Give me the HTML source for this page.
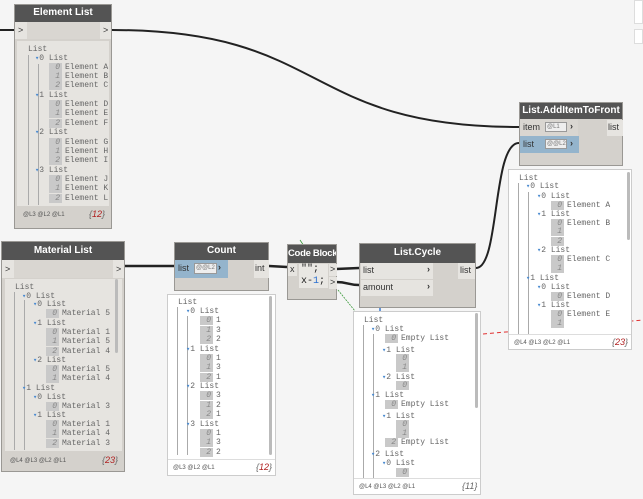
<!DOCTYPE html>
<html><head><meta charset="utf-8"><style>
*{margin:0;padding:0;box-sizing:border-box}
body{width:643px;height:499px;background:#f5f5f5;position:relative;overflow:hidden;font-family:"Liberation Sans",sans-serif}
.a{position:absolute}
.node{position:absolute;background:#d4d1cc;border:1px solid #9a9894}
.hd{position:absolute;left:0;right:0;top:0;background:#545454;color:#fff;font-weight:bold;font-size:10px;text-align:center;white-space:nowrap;overflow:hidden}
.t{position:absolute;font:8px "Liberation Mono",monospace;color:#666;white-space:pre;line-height:9px}
.i{display:inline-block;background:#c9c9c9;color:#888;width:13px;text-align:right;padding-right:2px;margin-right:3px;font-style:italic}
.tr{color:#4a8ad0;font-size:7px}
.pv{position:absolute;background:#fff;border:1px solid #ccc}
.ft{position:absolute;font:6px "Liberation Sans",sans-serif;color:#555}
.cnt{position:absolute;font:italic 9px "Liberation Sans",sans-serif;color:#666}
.cnt b{color:#b02020;font-weight:normal}
.vl{position:absolute;width:1px;background:#aaa}
.sb{position:absolute;width:3px;background:#bbb;border-radius:2px}
.port{position:absolute;font-size:9px;color:#333}
</style></head><body>

<svg class="a" style="left:0;top:0" width="643" height="499">
<path d="M483,334 L643,320" stroke="#e03030" stroke-width="1" stroke-dasharray="4,3" fill="none"/>
<path d="M338,290 L355,311" stroke="#3a9a3a" stroke-width="0.8" stroke-dasharray="2,1" fill="none"/>
<path d="M300,240 L304,246" stroke="#3a9a3a" stroke-width="0.8" fill="none"/>
<path d="M0,30 L14,30" stroke="#222" stroke-width="2" fill="none"/>
<path d="M112,30 C330,30 300,127 519,127" stroke="#222" stroke-width="2" fill="none"/>
<path d="M124,266 L174,266" stroke="#222" stroke-width="2.5" fill="none"/>
<path d="M269,266 L287,267" stroke="#222" stroke-width="2.5" fill="none"/>
<path d="M336,269 L359,268" stroke="#222" stroke-width="2.5" fill="none"/>
<path d="M336,282 C348,282 348,285 359,285" stroke="#222" stroke-width="2.5" fill="none"/>
<path d="M476,268 C500,268 492,143 519,143" stroke="#222" stroke-width="2" fill="none"/>
<path d="M380,308 L380,314" stroke="#3a7ad0" stroke-width="1.5"/>
</svg>

<div class="a" style="left:634px;top:0;width:9px;height:24px;background:#fff;border:1px solid #ddd"></div>
<div class="a" style="left:634px;top:29px;width:9px;height:15px;background:#fff;border:1px solid #ddd"></div>

<!-- Element List -->
<div class="node" style="left:14px;top:4px;width:98px;height:225px">
<div class="hd" style="height:17px;line-height:16px">Element List</div>
<div class="a" style="left:0;top:17px;width:96px;height:17px;background:#d9d6d1"></div>
<div class="a" style="left:0;top:17px;width:12px;height:17px;background:#e6e4e0"></div>
<div class="a" style="left:85px;top:17px;width:11px;height:17px;background:#e6e4e0"></div>
<div class="port" style="left:3px;top:20px">&gt;</div><div class="port" style="left:88px;top:20px">&gt;</div>
<div class="a" style="left:2px;top:36px;width:92px;height:165px;background:#e6e4e0"></div>
</div>
<div class="vl" style="left:28px;top:55px;height:150px"></div><div class="vl" style="left:38px;top:64px;height:141px"></div>
<div class="t" style="left:28px;top:45px">List</div>
<div class="t" style="left:35px;top:54px"><span class="tr">▾</span>0 List</div>
<div class="t" style="left:49px;top:63px"><span class="i">0</span>Element A</div>
<div class="t" style="left:49px;top:72px"><span class="i">1</span>Element B</div>
<div class="t" style="left:49px;top:81px"><span class="i">2</span>Element C</div>
<div class="t" style="left:35px;top:91px"><span class="tr">▾</span>1 List</div>
<div class="t" style="left:49px;top:100px"><span class="i">0</span>Element D</div>
<div class="t" style="left:49px;top:109px"><span class="i">1</span>Element E</div>
<div class="t" style="left:49px;top:119px"><span class="i">2</span>Element F</div>
<div class="t" style="left:35px;top:128px"><span class="tr">▾</span>2 List</div>
<div class="t" style="left:49px;top:138px"><span class="i">0</span>Element G</div>
<div class="t" style="left:49px;top:147px"><span class="i">1</span>Element H</div>
<div class="t" style="left:49px;top:156px"><span class="i">2</span>Element I</div>
<div class="t" style="left:35px;top:166px"><span class="tr">▾</span>3 List</div>
<div class="t" style="left:49px;top:175px"><span class="i">0</span>Element J</div>
<div class="t" style="left:49px;top:184px"><span class="i">1</span>Element K</div>
<div class="t" style="left:49px;top:194px"><span class="i">2</span>Element L</div>
<div class="ft" style="left:23px;top:212px">@L3 @L2 @L1</div>
<div class="cnt" style="left:89px;top:209px">{<b>12</b>}</div>

<!-- Material List -->
<div class="node" style="left:1px;top:241px;width:124px;height:231px">
<div class="hd" style="height:18px;line-height:17px">Material List</div>
<div class="a" style="left:0;top:18px;width:122px;height:18px;background:#d9d6d1"></div>
<div class="a" style="left:0;top:18px;width:12px;height:18px;background:#e6e4e0"></div>
<div class="a" style="left:111px;top:18px;width:11px;height:18px;background:#e6e4e0"></div>
<div class="port" style="left:3px;top:22px">&gt;</div><div class="port" style="left:114px;top:22px">&gt;</div>
<div class="a" style="left:3px;top:37px;width:117px;height:172px;background:#e6e4e0"></div>
</div>
<div class="sb" style="left:115px;top:279px;height:74px"></div>
<div class="vl" style="left:14px;top:292px;height:158px"></div><div class="vl" style="left:24px;top:300px;height:150px"></div>
<div class="t" style="left:15px;top:283px">List</div>
<div class="t" style="left:22px;top:292px"><span class="tr">▾</span>0 List</div>
<div class="t" style="left:33px;top:300px"><span class="tr">▾</span>0 List</div>
<div class="t" style="left:46px;top:309px"><span class="i">0</span>Material 5</div>
<div class="t" style="left:33px;top:319px"><span class="tr">▾</span>1 List</div>
<div class="t" style="left:46px;top:328px"><span class="i">0</span>Material 1</div>
<div class="t" style="left:46px;top:337px"><span class="i">1</span>Material 5</div>
<div class="t" style="left:46px;top:347px"><span class="i">2</span>Material 4</div>
<div class="t" style="left:33px;top:356px"><span class="tr">▾</span>2 List</div>
<div class="t" style="left:46px;top:365px"><span class="i">0</span>Material 5</div>
<div class="t" style="left:46px;top:374px"><span class="i">1</span>Material 4</div>
<div class="t" style="left:22px;top:384px"><span class="tr">▾</span>1 List</div>
<div class="t" style="left:33px;top:393px"><span class="tr">▾</span>0 List</div>
<div class="t" style="left:46px;top:402px"><span class="i">0</span>Material 3</div>
<div class="t" style="left:33px;top:411px"><span class="tr">▾</span>1 List</div>
<div class="t" style="left:46px;top:420px"><span class="i">0</span>Material 1</div>
<div class="t" style="left:46px;top:429px"><span class="i">1</span>Material 4</div>
<div class="t" style="left:46px;top:439px"><span class="i">2</span>Material 3</div>
<div class="ft" style="left:10px;top:458px">@L4 @L3 @L2 @L1</div>
<div class="cnt" style="left:102px;top:455px">{<b>23</b>}</div>

<!-- Count -->
<div class="node" style="left:174px;top:242px;width:95px;height:49px">
<div class="hd" style="height:17px;line-height:16px">Count</div>
<div class="a" style="left:0;top:17px;width:53px;height:18px;background:#94b4cc"></div>
<div class="port" style="left:3px;top:20px">list</div>
<div class="a" style="left:19px;top:20px;width:23px;height:11px;background:#eee;border:1px solid #999;font-size:6px;color:#777;line-height:9px;padding-left:1px">@@L2</div>
<div class="port" style="left:43px;top:19px;font-weight:bold">›</div>
<div class="a" style="left:79px;top:17px;width:15px;height:18px;background:#e6e4e0"></div>
<div class="port" style="left:80px;top:20px">int</div>
</div>
<div class="pv" style="left:167px;top:294px;width:109px;height:182px"></div>
<div class="a" style="left:168px;top:459px;width:107px;height:1px;background:#ddd"></div>
<div class="sb" style="left:269px;top:296px;height:159px"></div>
<div class="vl" style="left:177px;top:307px;height:148px"></div><div class="vl" style="left:187px;top:316px;height:139px"></div>
<div class="t" style="left:178px;top:298px">List</div>
<div class="t" style="left:186px;top:307px"><span class="tr">▾</span>0 List</div>
<div class="t" style="left:200px;top:316px"><span class="i">0</span>1</div>
<div class="t" style="left:200px;top:326px"><span class="i">1</span>3</div>
<div class="t" style="left:200px;top:335px"><span class="i">2</span>2</div>
<div class="t" style="left:186px;top:345px"><span class="tr">▾</span>1 List</div>
<div class="t" style="left:200px;top:354px"><span class="i">0</span>1</div>
<div class="t" style="left:200px;top:363px"><span class="i">1</span>3</div>
<div class="t" style="left:200px;top:373px"><span class="i">2</span>1</div>
<div class="t" style="left:186px;top:382px"><span class="tr">▾</span>2 List</div>
<div class="t" style="left:200px;top:391px"><span class="i">0</span>3</div>
<div class="t" style="left:200px;top:401px"><span class="i">1</span>2</div>
<div class="t" style="left:200px;top:410px"><span class="i">2</span>1</div>
<div class="t" style="left:186px;top:420px"><span class="tr">▾</span>3 List</div>
<div class="t" style="left:200px;top:429px"><span class="i">0</span>1</div>
<div class="t" style="left:200px;top:438px"><span class="i">1</span>3</div>
<div class="t" style="left:200px;top:448px"><span class="i">2</span>2</div>
<div class="ft" style="left:173px;top:465px">@L3 @L2 @L1</div>
<div class="cnt" style="left:256px;top:462px">{<b>12</b>}</div>

<!-- Code Block -->
<div class="node" style="left:287px;top:244px;width:50px;height:56px">
<div class="hd" style="height:18px;line-height:17px;font-size:9.5px;letter-spacing:-0.3px">Code Block</div>
<div class="a" style="left:0;top:19px;width:9px;height:12px;background:#e6e4e0"></div>
<div class="port" style="left:2px;top:19px">x</div>
<div class="a" style="left:11px;top:19px;width:29px;height:24px;background:#e9e7e3"></div>
<div class="a" style="left:13px;top:19px;font:10px 'Liberation Mono',monospace;color:#222;line-height:12px">"";<br>x-<span style="color:#2a6fd0">1</span>;</div>
<div class="a" style="left:41px;top:19px;width:8px;height:12px;background:#e6e4e0"></div>
<div class="a" style="left:41px;top:32px;width:8px;height:12px;background:#e6e4e0"></div>
<div class="port" style="left:42px;top:19px">&gt;</div><div class="port" style="left:42px;top:32px">&gt;</div>
</div>

<!-- List.Cycle -->
<div class="node" style="left:359px;top:243px;width:117px;height:65px">
<div class="hd" style="height:19px;line-height:18px">List.Cycle</div>
<div class="a" style="left:1px;top:19px;width:72px;height:16px;background:#e6e4e0"></div>
<div class="a" style="left:1px;top:36px;width:72px;height:16px;background:#e6e4e0"></div>
<div class="port" style="left:3px;top:21px">list</div><div class="port" style="left:3px;top:38px">amount</div>
<div class="port" style="left:67px;top:20px;font-weight:bold">›</div><div class="port" style="left:67px;top:37px;font-weight:bold">›</div>
<div class="a" style="left:98px;top:19px;width:17px;height:16px;background:#e6e4e0"></div>
<div class="port" style="left:100px;top:21px">list</div>
</div>
<div class="pv" style="left:353px;top:311px;width:128px;height:184px"></div>
<div class="a" style="left:354px;top:478px;width:126px;height:1px;background:#ddd"></div>
<div class="sb" style="left:475px;top:313px;height:95px"></div>
<div class="vl" style="left:363px;top:325px;height:153px"></div><div class="vl" style="left:373px;top:334px;height:144px"></div>
<div class="t" style="left:364px;top:316px">List</div>
<div class="t" style="left:371px;top:325px"><span class="tr">▾</span>0 List</div>
<div class="t" style="left:385px;top:334px"><span class="i">0</span>Empty List</div>
<div class="t" style="left:382px;top:346px"><span class="tr">▾</span>1 List</div>
<div class="t" style="left:396px;top:354px"><span class="i">0</span></div>
<div class="t" style="left:396px;top:363px"><span class="i">1</span></div>
<div class="t" style="left:382px;top:373px"><span class="tr">▾</span>2 List</div>
<div class="t" style="left:396px;top:381px"><span class="i">0</span></div>
<div class="t" style="left:371px;top:391px"><span class="tr">▾</span>1 List</div>
<div class="t" style="left:385px;top:400px"><span class="i">0</span>Empty List</div>
<div class="t" style="left:382px;top:412px"><span class="tr">▾</span>1 List</div>
<div class="t" style="left:396px;top:420px"><span class="i">0</span></div>
<div class="t" style="left:396px;top:429px"><span class="i">1</span></div>
<div class="t" style="left:385px;top:438px"><span class="i">2</span>Empty List</div>
<div class="t" style="left:371px;top:450px"><span class="tr">▾</span>2 List</div>
<div class="t" style="left:382px;top:459px"><span class="tr">▾</span>0 List</div>
<div class="t" style="left:396px;top:468px"><span class="i">0</span></div>
<div class="ft" style="left:359px;top:484px">@L4 @L3 @L2 @L1</div>
<div class="cnt" style="left:462px;top:481px">{<b style="color:#666">11</b>}</div>

<!-- List.AddItemToFront -->
<div class="node" style="left:519px;top:102px;width:104px;height:64px">
<div class="hd" style="height:16px;line-height:15px">List.AddItemToFront</div>
<div class="a" style="left:0;top:16px;width:58px;height:17px;background:#d9d6d1"></div>
<div class="a" style="left:0;top:33px;width:59px;height:17px;background:#94b4cc"></div>
<div class="port" style="left:3px;top:19px">item</div><div class="port" style="left:3px;top:36px">list</div>
<div class="a" style="left:25px;top:19px;width:22px;height:10px;background:#eee;border:1px solid #999;font-size:6px;color:#777;line-height:8px;padding-left:1px">@L1</div>
<div class="a" style="left:25px;top:36px;width:22px;height:10px;background:#eee;border:1px solid #999;font-size:6px;color:#777;line-height:8px;padding-left:1px">@@L2</div>
<div class="port" style="left:50px;top:18px;font-weight:bold">›</div><div class="port" style="left:50px;top:35px;font-weight:bold">›</div>
<div class="a" style="left:87px;top:17px;width:16px;height:16px;background:#e6e4e0"></div>
<div class="port" style="left:88px;top:19px">list</div>
</div>
<div class="pv" style="left:508px;top:169px;width:124px;height:181px"></div>
<div class="a" style="left:509px;top:334px;width:122px;height:1px;background:#ddd"></div>
<div class="sb" style="left:627px;top:172px;height:68px"></div>
<div class="vl" style="left:518px;top:183px;height:151px"></div><div class="vl" style="left:528px;top:192px;height:142px"></div>
<div class="t" style="left:519px;top:174px">List</div>
<div class="t" style="left:526px;top:182px"><span class="tr">▾</span>0 List</div>
<div class="t" style="left:537px;top:192px"><span class="tr">▾</span>0 List</div>
<div class="t" style="left:551px;top:201px"><span class="i">0</span>Element A</div>
<div class="t" style="left:537px;top:210px"><span class="tr">▾</span>1 List</div>
<div class="t" style="left:551px;top:219px"><span class="i">0</span>Element B</div>
<div class="t" style="left:551px;top:227px"><span class="i">1</span></div>
<div class="t" style="left:551px;top:237px"><span class="i">2</span></div>
<div class="t" style="left:537px;top:246px"><span class="tr">▾</span>2 List</div>
<div class="t" style="left:551px;top:255px"><span class="i">0</span>Element C</div>
<div class="t" style="left:551px;top:264px"><span class="i">1</span></div>
<div class="t" style="left:526px;top:274px"><span class="tr">▾</span>1 List</div>
<div class="t" style="left:537px;top:283px"><span class="tr">▾</span>0 List</div>
<div class="t" style="left:551px;top:292px"><span class="i">0</span>Element D</div>
<div class="t" style="left:537px;top:301px"><span class="tr">▾</span>1 List</div>
<div class="t" style="left:551px;top:310px"><span class="i">0</span>Element E</div>
<div class="t" style="left:551px;top:319px"><span class="i">1</span></div>
<div class="ft" style="left:514px;top:340px">@L4 @L3 @L2 @L1</div>
<div class="cnt" style="left:612px;top:337px">{<b>23</b>}</div>
</body></html>
